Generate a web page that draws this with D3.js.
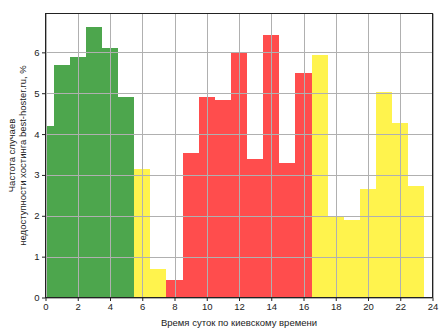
<!DOCTYPE html>
<html>
<head>
<meta charset="utf-8">
<script src="https://cdn.jsdelivr.net/npm/d3@7"></script>
<style>
  body { margin: 0; background: #fff; }
  svg { display: block; font-family: "Liberation Sans", Arial, sans-serif; }
</style>
</head>
<body>
<svg id="chart" width="448" height="336"></svg>
<script>
// Hour of day (Kyiv time) and share of downtime incidents, %
const hours = [0,1,2,3,4,5,6,7,8,9,10,11,12,13,14,15,16,17,18,19,20,21,22,23];
const values = [4.20,5.69,5.88,6.62,6.10,4.91,3.15,0.69,0.44,3.53,4.91,4.84,5.98,3.39,6.42,3.29,5.49,5.93,1.98,1.90,2.66,5.03,4.27,2.74];
// Colour group per hour: night, shoulder, daytime
const groups = ["g","g","g","g","g","g","y","y","r","r","r","r","r","r","r","r","r","y","y","y","y","y","y","y"];
const xTicks = [0,2,4,6,8,10,12,14,16,18,20,22,24];
const yTicks = [0,1,2,3,4,5,6];
const colors = { g: "#4da64d", r: "#ff4d4d", y: "#fff34d" };

const svg = d3.select("#chart");
const m = { left: 45.5, right: 432.5, top: 13.5, bottom: 297.5 };

const x = d3.scaleLinear().domain([0, 24]).range([m.left, m.right]);
const y = d3.scaleLinear().domain([0, d3.max(values) * 1.05]).range([m.bottom, m.top]);

svg.append("defs").append("clipPath").attr("id", "plot")
  .append("rect").attr("x", m.left).attr("y", m.top)
  .attr("width", m.right - m.left).attr("height", m.bottom - m.top);

// Bars, one per hour, centred on the hour
svg.append("g").attr("clip-path", "url(#plot)")
  .selectAll("rect").data(hours).join("rect")
  .attr("x", d => x(d - 0.5))
  .attr("width", d => x(d + 0.5) - x(d - 0.5))
  .attr("y", (d, i) => y(values[i]))
  .attr("height", (d, i) => y(0) - y(values[i]))
  .attr("fill", (d, i) => colors[groups[i]])
  .attr("shape-rendering", "crispEdges");

// Grid on top of the bars
const grid = svg.append("g").attr("stroke", "#b0b0b0").attr("stroke-width", 1);
grid.selectAll(".vx").data(xTicks).join("line")
  .attr("x1", d => Math.round(x(d)) + 0.5).attr("x2", d => Math.round(x(d)) + 0.5)
  .attr("y1", m.top).attr("y2", m.bottom);
grid.selectAll(".hy").data(yTicks).join("line")
  .attr("y1", d => Math.round(y(d)) + 0.5).attr("y2", d => Math.round(y(d)) + 0.5)
  .attr("x1", m.left).attr("x2", m.right);

// Axes
const xAxis = d3.axisBottom(x).tickValues(xTicks).tickFormat(d3.format("d")).tickSize(3.5).tickPadding(2.5);
const yAxis = d3.axisLeft(y).tickValues(yTicks).tickFormat(d3.format("d")).tickSize(3.5).tickPadding(2.5);

const gx = svg.append("g").attr("transform", `translate(0,${m.bottom})`).call(xAxis);
const gy = svg.append("g").attr("transform", `translate(${m.left},0)`).call(yAxis);
[gx, gy].forEach(g => {
  g.select(".domain").remove();
  g.selectAll("line").attr("stroke", "#222");
  g.selectAll("text").attr("font-size", 9.5).attr("fill", "#222")
    .attr("font-family", "'Liberation Sans', Arial, sans-serif");
});

// Frame
svg.append("rect").attr("x", m.left).attr("y", m.top)
  .attr("width", m.right - m.left).attr("height", m.bottom - m.top)
  .attr("fill", "none").attr("stroke", "#222").attr("stroke-width", 1);

// Axis titles
svg.append("text").attr("x", (m.left + m.right) / 2).attr("y", 325.5)
  .attr("text-anchor", "middle").attr("font-size", 9.5).attr("fill", "#222")
  .text("Время суток по киевскому времени");

const yl = svg.append("text")
  .attr("transform", `translate(0,${(m.top + m.bottom) / 2}) rotate(-90)`)
  .attr("text-anchor", "middle").attr("font-size", 9.5).attr("fill", "#222");
yl.append("tspan").attr("x", 0).attr("y", 15).text("Частота случаев");
yl.append("tspan").attr("x", 0).attr("y", 26).text("недоступности хостинга best-hoster.ru, %");
</script>
</body>
</html>
